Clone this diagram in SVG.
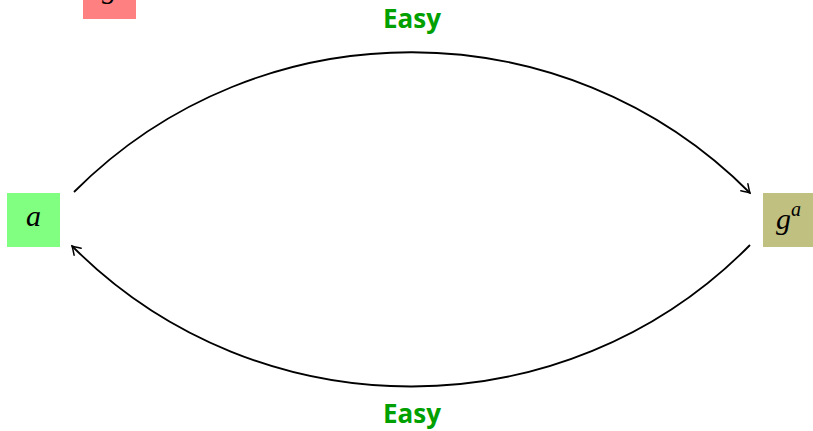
<svg xmlns="http://www.w3.org/2000/svg" width="813" height="431" viewBox="0 0 813 431">
<style>
.lbl{font-family:"Open Sans","Liberation Sans",sans-serif;font-weight:bold;font-size:26px;fill:#00a000;text-anchor:middle}
.m{font-family:"Liberation Serif","DejaVu Serif",serif;font-style:italic;fill:#000}
.edge{fill:none;stroke:#000;stroke-width:1.8}
</style>
<defs>
<marker id="arr" viewBox="-10 -6 12 12" refX="0" refY="0" markerWidth="12" markerHeight="12" markerUnits="userSpaceOnUse" orient="auto-start-reverse">
<path d="M-8,-5 Q-2,-1 0,0 Q-2,1 -8,5" fill="none" stroke="#000" stroke-width="1.5" stroke-linecap="round"/>
</marker>
</defs>
<g id="node-g">
<rect x="83" y="-35" width="53" height="54" fill="#ff8080"/>
<text class="m" x="109.5" y="-2" font-size="30" text-anchor="middle">g</text>
</g>
<g id="node-a">
<rect x="7" y="193" width="53" height="54" fill="#80ff80"/>
<text class="m" x="33.5" y="226" font-size="30" text-anchor="middle">a</text>
</g>
<g id="node-ga">
<rect x="763" y="193" width="50" height="54" fill="#c0c080"/>
<text class="m" x="776" y="229" font-size="30">g<tspan font-size="20" dy="-13">a</tspan></text>
</g>
<g id="connectors">
<path class="edge" d="M74,192 C260,5 564,6 750,193" marker-end="url(#arr)"/>
<path class="edge" d="M72,246 C259,434 565,433 750,245" marker-start="url(#arr)"/>
<text class="lbl" x="412" y="28">Easy</text>
<text class="lbl" x="412" y="423">Easy</text>
</g>
</svg>
